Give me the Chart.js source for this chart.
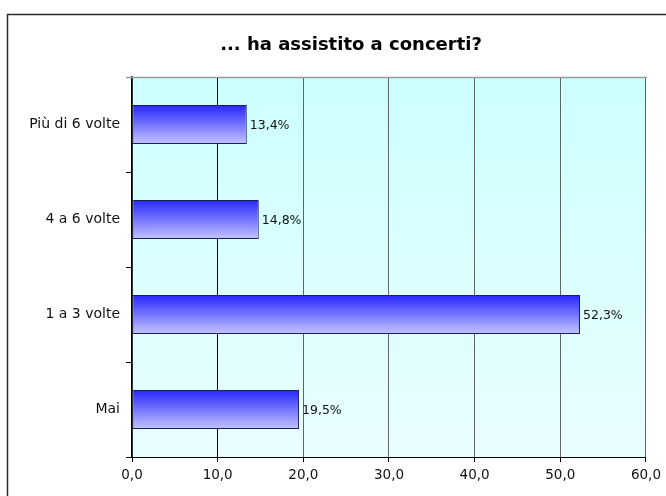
<!DOCTYPE html>
<html>
<head>
<meta charset="utf-8">
<script src="https://cdn.jsdelivr.net/npm/chart.js@4/dist/chart.umd.min.js"></script>
<style>
  body { margin: 0; background: #fff; }
  canvas { display: block; }
</style>
</head>
<body>
<canvas id="barChart" width="666" height="496"></canvas>
<script>
const categorie = ["Più di 6 volte", "4 a 6 volte", "1 a 3 volte", "Mai"];
const percentuali = [13.4, 14.8, 52.3, 19.5];
const tickAsseX = [0, 10, 20, 30, 40, 50, 60];
const titolo = "... ha assistito a concerti?";

const FONT = "'DejaVu Sans', Verdana, sans-serif";
const fmt = v => v.toFixed(1).replace(".", ",");

// cornice esterna, titolo e sfondo dell'area del grafico
const sfondoPlugin = {
    id: "sfondo",
    beforeDraw(chart) {
        const { ctx, chartArea: a } = chart;
        ctx.save();
        ctx.strokeStyle = "#2a2a2a";
        ctx.lineWidth = 1.5;
        ctx.beginPath();
        ctx.moveTo(7.5, chart.height);
        ctx.lineTo(7.5, 14.5);
        ctx.lineTo(chart.width, 14.5);
        ctx.stroke();

        // il titolo è centrato sulla cornice originale (più larga della finestra)
        ctx.fillStyle = "#000";
        ctx.font = "bold 18px " + FONT;
        ctx.textAlign = "center";
        ctx.textBaseline = "middle";
        ctx.fillText(titolo, 351, 45);

        const g = ctx.createLinearGradient(0, a.top, 0, a.bottom);
        g.addColorStop(0, "#ccffff");
        g.addColorStop(1, "#eafefe");
        ctx.fillStyle = g;
        ctx.fillRect(a.left, a.top, a.right - a.left, a.bottom - a.top);
        ctx.restore();
    },
    afterDraw(chart) {
        const { ctx, chartArea: a } = chart;
        ctx.save();
        ctx.strokeStyle = "#9a9a9a";
        ctx.lineWidth = 1.5;
        ctx.beginPath();
        ctx.moveTo(a.left - 6, a.top + 0.5);
        ctx.lineTo(a.right + 1, a.top + 0.5);
        ctx.stroke();
        ctx.restore();
    }
};

// etichette percentuali a destra delle barre
const etichettePlugin = {
    id: "etichette",
    afterDatasetsDraw(chart) {
        const { ctx } = chart;
        const meta = chart.getDatasetMeta(0);
        ctx.save();
        ctx.font = "12.5px " + FONT;
        ctx.fillStyle = "#111";
        ctx.textAlign = "left";
        ctx.textBaseline = "middle";
        meta.data.forEach((bar, i) => {
            ctx.fillText(fmt(percentuali[i]) + "%", bar.x + 3, bar.y + 1);
        });
        ctx.restore();
    }
};

function coloreBarra(context) {
    const chart = context.chart;
    if (!chart.chartArea || !chart.scales.y) return "#7777ff";
    const y = chart.scales.y.getPixelForValue(context.dataIndex);
    const g = chart.ctx.createLinearGradient(0, y - 20, 0, y + 20);
    g.addColorStop(0, "#2424ff");
    g.addColorStop(1, "#c6c6ff");
    return g;
}

const ctx = document.getElementById("barChart").getContext("2d");

new Chart(ctx, {
    type: "bar",
    data: {
        labels: categorie,
        datasets: [
            {
                data: percentuali,
                backgroundColor: coloreBarra,
                borderColor: "#1c1c5e",
                borderWidth: 1,
                borderSkipped: false,
                barPercentage: 0.41,
                categoryPercentage: 1
            }
        ]
    },
    options: {
        indexAxis: "y",
        responsive: false,
        animation: false,
        layout: {
            padding: { left: 0, right: 19, top: 77, bottom: 0 }
        },
        plugins: {
            legend: { display: false },
            tooltip: { enabled: false },
            title: { display: false }
        },
        scales: {
            x: {
                min: 0,
                max: 60,
                afterBuildTicks: scale => {
                    scale.ticks = tickAsseX.map(v => ({ value: v }));
                },
                afterFit: scale => { scale.height = 39; },
                border: { color: "#000", width: 1 },
                grid: {
                    color: c => (c.tick && c.tick.value === 10 ? "#000" : "#5c6868"),
                    lineWidth: 1,
                    tickLength: 5,
                    tickColor: "#000"
                },
                ticks: {
                    color: "#111",
                    padding: 5,
                    font: { family: FONT, size: 13.5 },
                    callback: value => fmt(value)
                }
            },
            y: {
                afterFit: scale => { scale.width = 132; },
                border: { color: "#000", width: 1.5 },
                grid: {
                    offset: true,
                    drawOnChartArea: false,
                    tickLength: 6,
                    tickColor: "#000"
                },
                ticks: {
                    color: "#111",
                    padding: 6,
                    font: { family: FONT, size: 14 }
                }
            }
        }
    },
    plugins: [sfondoPlugin, etichettePlugin]
});
</script>
</body>
</html>
